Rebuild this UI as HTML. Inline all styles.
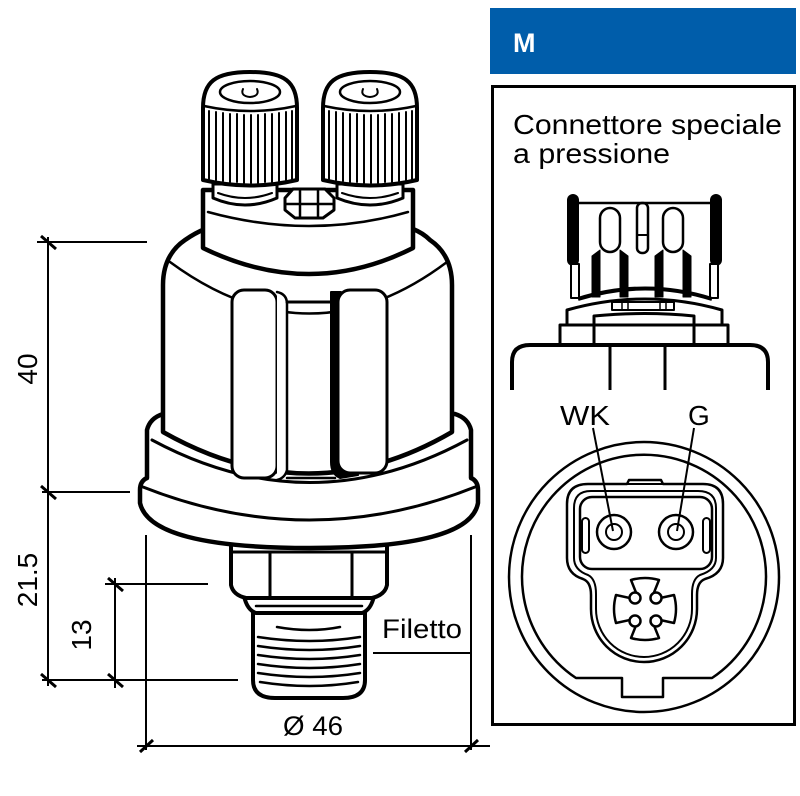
<!DOCTYPE html>
<html><head><meta charset="utf-8"><style>
html,body{margin:0;padding:0;background:#fff;width:800px;height:796px;overflow:hidden}
svg{display:block}
text{font-family:"Liberation Sans",Arial,sans-serif;fill:#000}
</style></head><body>
<svg width="800" height="796" viewBox="0 0 800 796" xmlns="http://www.w3.org/2000/svg">
<!-- header -->
<rect x="490" y="8" width="306" height="66" fill="#005DAA"/>
<text x="513" y="52" font-size="27" font-weight="bold" style="fill:#fff">M</text>
<!-- box -->
<rect x="492.5" y="86.5" width="302" height="638" fill="none" stroke="#000" stroke-width="3"/>
<text x="513" y="134" font-size="28" textLength="269" lengthAdjust="spacingAndGlyphs">Connettore speciale</text>
<text x="513" y="163" font-size="28" textLength="157" lengthAdjust="spacingAndGlyphs">a pressione</text>

<!-- dimension lines -->
<g stroke="#000" stroke-width="2" fill="none">
<line x1="48" y1="237" x2="48" y2="686"/>
<line x1="37" y1="242" x2="147" y2="242"/>
<line x1="42" y1="492" x2="130" y2="492"/>
<line x1="42" y1="680" x2="238" y2="680"/>
<line x1="115" y1="578" x2="115" y2="688"/>
<line x1="105" y1="584" x2="208" y2="584"/>
<line x1="137" y1="746" x2="490" y2="746"/>
<line x1="146" y1="535" x2="146" y2="750"/>
<line x1="471" y1="535" x2="471" y2="750"/>
<line x1="373" y1="653" x2="471" y2="653"/>
</g>
<g stroke="#000" stroke-width="3" fill="none">
<line x1="41" y1="236" x2="56" y2="249"/>
<line x1="41" y1="486" x2="56" y2="499"/>
<line x1="41" y1="674" x2="56" y2="687"/>
<line x1="108" y1="578" x2="123" y2="591"/>
<line x1="108" y1="674" x2="123" y2="687"/>
<line x1="140" y1="752" x2="153" y2="740"/>
<line x1="465" y1="752" x2="478" y2="740"/>
</g>
<text transform="translate(37,369) rotate(-90)" text-anchor="middle" font-size="28">40</text>
<text transform="translate(37,580) rotate(-90)" text-anchor="middle" font-size="28">21.5</text>
<text transform="translate(91,635) rotate(-90)" text-anchor="middle" font-size="28">13</text>
<text x="283" y="735" font-size="27" textLength="60" lengthAdjust="spacingAndGlyphs">Ø 46</text>
<text x="382" y="638" font-size="27" textLength="80" lengthAdjust="spacingAndGlyphs">Filetto</text>

<!-- sensor -->
<g stroke="#000" stroke-linejoin="round" stroke-linecap="round">
<!-- thread -->
<path d="M253,610 L253,680 Q253,698 275,698 L343,698 Q365,698 365,680 L365,610 Z" fill="#fff" stroke-width="4"/>
<g fill="none" stroke-width="2.5">
<path d="M277,627 Q310,633 340,627"/>
<path d="M258,637 Q310,645 360,637"/>
<path d="M258,646 Q310,654 360,646"/>
<path d="M258,655 Q310,663 360,655"/>
<path d="M258,664 Q310,672 360,664"/>
<path d="M258,673 Q310,681 360,673"/>
<path d="M260,682 Q310,690 358,682"/>
</g>
<!-- neck -->
<path d="M244,596 Q247,610 256,613 L362,613 Q371,610 374,596 Z" fill="#fff" stroke-width="4"/>
<line x1="256" y1="606" x2="362" y2="606" stroke-width="2.5"/>
<!-- hex -->
<path d="M231,540 L231,585 Q233,595 246,598 L372,598 Q385,595 387,585 L387,540 Z" fill="#fff" stroke-width="4"/>
<line x1="231" y1="552" x2="387" y2="552" stroke-width="3"/>
<line x1="270" y1="552" x2="270" y2="597" stroke-width="3"/>
<line x1="352" y1="552" x2="352" y2="597" stroke-width="3"/>
<!-- flange -->
<path d="M163,414 Q150,418 147,430 L147,478 Q140,481 140,490 L140,503 Q150,548 310,548 Q470,548 478,503 L478,490 Q478,481 471,478 L471,430 Q468,418 455,414 Z" fill="#fff" stroke-width="4.5"/>
<path d="M152,440 Q310,525 467,440" fill="none" stroke-width="3"/>
<path d="M143,487 Q310,553 475,487" fill="none" stroke-width="3"/>
<!-- body -->
<path d="M163,432 L163,285 Q163,255 185,240 Q195,233 205,229 L413,229 Q423,233 430,240 Q452,255 452,285 L452,432 Q310,515 163,432 Z" fill="#fff" stroke-width="4.5"/>
<path d="M170,262 Q310,365 447,262" fill="none" stroke-width="2.5"/>
<!-- slots -->
<rect x="232" y="290" width="45" height="188" rx="12" fill="#fff" stroke-width="3"/>
<path d="M277,292 Q287,294 287,304 L287,470 Q285,478 277,480" fill="#fff" stroke-width="2.5"/>
<line x1="287" y1="302" x2="331" y2="302" stroke-width="3"/>
<line x1="287" y1="478" x2="335" y2="478" stroke-width="2.5"/>
<path d="M331,292 L341,292 L341,470 Q350,476 358,475 L340,478 Q331,474 331,462 Z" fill="#000" stroke-width="2"/>
<rect x="338" y="290" width="49" height="183" rx="12" fill="#fff" stroke-width="3"/>
<!-- collar -->
<path d="M203,190 L203,248 Q310,300 413,248 L413,190 Z" fill="#fff" stroke-width="4.5"/>
<path d="M208,212 Q310,240 408,212" fill="none" stroke-width="2.5"/>
<!-- washers -->
<path d="M213,184 L213,198 Q245,212 277,198 L277,184 Z" fill="#fff" stroke-width="3"/>
<path d="M218,193 Q245,203 272,193" fill="none" stroke-width="2"/>
<path d="M337,184 L337,198 Q370,212 403,198 L403,184 Z" fill="#fff" stroke-width="3"/>
<path d="M342,193 Q370,203 398,193" fill="none" stroke-width="2"/>
<!-- nut -->
<path d="M285,198 L293,189 L325,189 L334,198 L334,210 L323,218 L295,218 L285,210 Z" fill="#fff" stroke-width="3"/>
<path d="M300,189 L300,218 M318,189 L318,218 M285,204 L334,204" fill="none" stroke-width="2.5"/>
<!-- knobs -->
<g>
<path d="M203,180 L203,108 C203,82 215,72 250,72 C285,72 297,82 297,108 L297,180 Q250,191 203,180 Z" fill="#fff" stroke-width="4"/>
<path d="M204,106 Q250,116 296,106" fill="none" stroke-width="2.5"/>
<ellipse cx="250" cy="92" rx="30" ry="11" fill="none" stroke-width="2.5"/>
<path d="M243,89 Q240,96 250,97 Q260,96 257,89" fill="none" stroke-width="2"/>
<g stroke-width="2">
<line x1="209" y1="111" x2="209" y2="179"/><line x1="216" y1="112" x2="216" y2="180"/>
<line x1="223" y1="113" x2="223" y2="181"/><line x1="230" y1="114" x2="230" y2="182"/>
<line x1="237" y1="114" x2="237" y2="182"/><line x1="244" y1="115" x2="244" y2="183"/>
<line x1="251" y1="115" x2="251" y2="183"/><line x1="258" y1="115" x2="258" y2="183"/>
<line x1="265" y1="114" x2="265" y2="182"/><line x1="272" y1="114" x2="272" y2="182"/>
<line x1="279" y1="113" x2="279" y2="181"/><line x1="286" y1="112" x2="286" y2="180"/>
<line x1="292" y1="111" x2="292" y2="179"/>
</g>
</g>
<g transform="translate(120,0)">
<path d="M203,180 L203,108 C203,82 215,72 250,72 C285,72 297,82 297,108 L297,180 Q250,191 203,180 Z" fill="#fff" stroke-width="4"/>
<path d="M204,106 Q250,116 296,106" fill="none" stroke-width="2.5"/>
<ellipse cx="250" cy="92" rx="30" ry="11" fill="none" stroke-width="2.5"/>
<path d="M243,89 Q240,96 250,97 Q260,96 257,89" fill="none" stroke-width="2"/>
<g stroke-width="2">
<line x1="209" y1="111" x2="209" y2="179"/><line x1="216" y1="112" x2="216" y2="180"/>
<line x1="223" y1="113" x2="223" y2="181"/><line x1="230" y1="114" x2="230" y2="182"/>
<line x1="237" y1="114" x2="237" y2="182"/><line x1="244" y1="115" x2="244" y2="183"/>
<line x1="251" y1="115" x2="251" y2="183"/><line x1="258" y1="115" x2="258" y2="183"/>
<line x1="265" y1="114" x2="265" y2="182"/><line x1="272" y1="114" x2="272" y2="182"/>
<line x1="279" y1="113" x2="279" y2="181"/><line x1="286" y1="112" x2="286" y2="180"/>
<line x1="292" y1="111" x2="292" y2="179"/>
</g>
</g>
</g>

<!-- connector side view -->
<g stroke="#000" stroke-linejoin="round" fill="none">
<rect x="567" y="194" width="12" height="72" rx="6" fill="#000" stroke="none"/>
<rect x="710" y="194" width="12" height="72" rx="6" fill="#000" stroke="none"/>
<rect x="571" y="264" width="8" height="34" stroke-width="2" fill="#fff"/>
<rect x="710" y="264" width="8" height="34" stroke-width="2" fill="#fff"/>
<line x1="579" y1="203" x2="710" y2="203" stroke-width="2.5"/>
<rect x="600" y="208" width="20" height="44" rx="10" stroke-width="2.5" fill="#fff"/>
<rect x="663" y="208" width="20" height="44" rx="10" stroke-width="2.5" fill="#fff"/>
<polygon points="592,256 600,250 600,297 592,297" fill="#000" stroke-width="1"/>
<polygon points="620,250 628,256 628,297 620,297" fill="#000" stroke-width="1"/>
<polygon points="655,256 663,250 663,297 655,297" fill="#000" stroke-width="1"/>
<polygon points="683,250 691,256 691,297 683,297" fill="#000" stroke-width="1"/>
<rect x="637" y="203" width="11" height="50" rx="5" stroke-width="2.5"/>
<line x1="637" y1="235" x2="648" y2="235" stroke-width="2"/>
<path d="M578,299 Q645,278 712,299" stroke-width="4"/>
<path d="M567,325 L567,310 Q645,288 722,310 L722,325" stroke-width="3"/>
<rect x="612" y="302" width="62" height="8" stroke-width="2" fill="#fff"/>
<path d="M622,302 V310 M628,302 V310 M660,302 V310 M666,302 V310" stroke-width="1.5"/>
<path d="M560,345 L560,325 L728,325 L728,345" stroke-width="3"/>
<path d="M594,345 L594,316 Q645,311 694,316 L694,345" stroke-width="3"/>
<path d="M512,390 L512,362 Q512,345 530,345 L750,345 Q768,345 768,362 L768,390" stroke-width="4"/>
<line x1="610" y1="345" x2="610" y2="390" stroke-width="3"/>
<line x1="665" y1="345" x2="665" y2="390" stroke-width="3"/>
</g>

<!-- connector front view -->
<text x="560" y="425" font-size="28" textLength="50" lengthAdjust="spacingAndGlyphs">WK</text>
<text x="688" y="425" font-size="28">G</text>
<g stroke="#000" fill="none" stroke-linejoin="round">
<circle cx="644" cy="577" r="135" stroke-width="2.5"/>
<path d="M576,678 A122,122 0 1 1 712,678 L663,678 L663,697 L622,697 L622,678 Z" stroke-width="2.5"/>
<path d="M588,484 L627,484 L629,480 L661,480 L663,484 L703,484 Q723,484 723,504 L723,558 Q723,574 705,579 Q697,582 697,595 L697,609 A53,53 0 0 1 591,609 L591,595 Q591,582 583,579 Q567,574 567,558 L567,504 Q567,484 588,484 Z" stroke-width="2.5"/>
<path d="M627,484 L663,484" stroke-width="2"/>
<path d="M591,491 L698,491 Q716,491 716,508 L716,558 Q716,570 700,575 Q692,579 692,594 L692,609 A48,48 0 0 1 596,609 L596,594 Q596,579 588,575 Q574,570 574,558 L574,508 Q574,491 591,491 Z" stroke-width="2"/>
<rect x="580" y="497" width="132" height="72" rx="12" stroke-width="2.5"/>
<rect x="582" y="518" width="7" height="35" rx="3.5" stroke-width="2"/>
<rect x="703" y="518" width="7" height="35" rx="3.5" stroke-width="2"/>
<circle cx="614" cy="532" r="17" stroke-width="2.5"/>
<circle cx="614" cy="532" r="8" stroke-width="2"/>
<circle cx="676" cy="532" r="17" stroke-width="2.5"/>
<circle cx="676" cy="532" r="8" stroke-width="2"/>
<line x1="593" y1="428" x2="613" y2="531" stroke-width="2"/>
<line x1="694" y1="428" x2="677" y2="531" stroke-width="2"/>
<path d="M631,580 Q645,576 659,580 L651,600 L674,595 Q678,609 674,623 L651,618 L659,638 Q645,642 631,638 L639,618 L616,623 Q612,609 616,595 L639,600 Z" fill="#fff" stroke-width="2.5"/>
<circle cx="635" cy="598" r="5.5" fill="#fff" stroke-width="2.5"/>
<circle cx="656" cy="598" r="5.5" fill="#fff" stroke-width="2.5"/>
<circle cx="635" cy="621" r="5.5" fill="#fff" stroke-width="2.5"/>
<circle cx="656" cy="621" r="5.5" fill="#fff" stroke-width="2.5"/>
</g>
</svg>
</body></html>
